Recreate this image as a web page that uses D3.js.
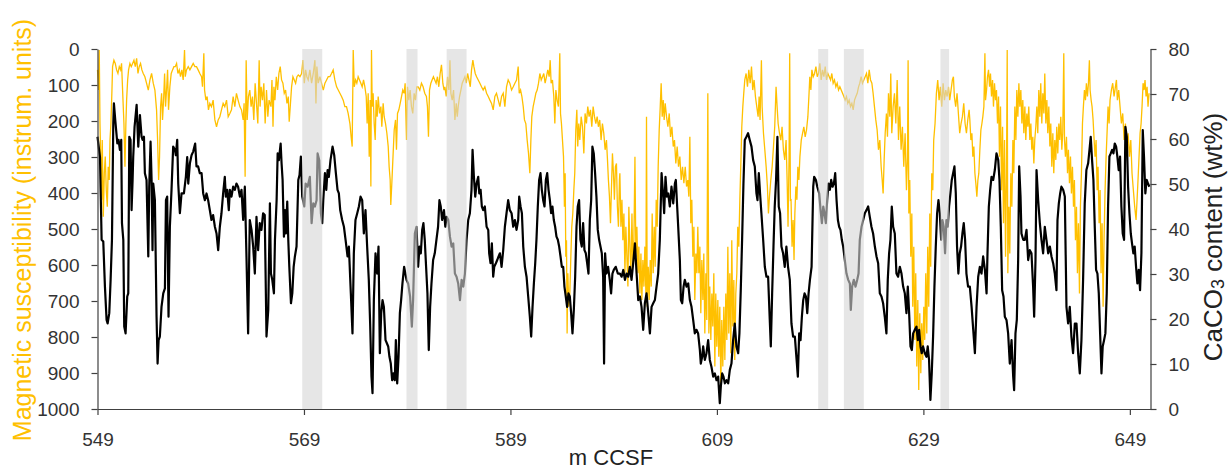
<!DOCTYPE html>
<meta charset="utf-8">
<script src="https://d3js.org/d3.v7.min.js"></script>
<style>
  body { margin: 0; background: #fff; }
  text { font-family: "Liberation Sans", Arial, sans-serif; }
</style>
<div id="chart"></div>
<script>

// depth axis ticks (m CCSF) and the two y axes
var depthTicks = [549, 569, 589, 609, 629, 649];
var msTicks = [0, 100, 200, 300, 400, 500, 600, 700, 800, 900, 1000];
var caTicks = [0, 10, 20, 30, 40, 50, 60, 70, 80];

// grey intervals [from, to] in m CCSF
var gaps = [[568.83, 570.77], [578.93, 580.0], [582.82, 584.75], [618.81, 619.78], [621.3, 623.23], [630.65, 631.49]];

// CaCO3 content (wt%) : [depth, value]
var caco3 = [
[549.0,60.5],[549.24,56],[549.4,37.6],[549.56,37.2],[549.72,27.2],[549.88,19.8],[549.98,19],[550.14,21.3],[550.27,28.7],[550.4,37.6],[550.53,63.5],[550.59,67.9],[550.72,64.2],[550.92,59],[551.04,59.8],[551.17,57.6],[551.3,59.8],[551.37,41.3],[551.5,37.6],[551.59,18.3],[551.72,16.8],[551.88,25],[551.98,25.7],[552.08,60.5],[552.2,59.8],[552.3,44.2],[552.4,50.9],[552.46,56],[552.59,62.7],[552.79,67.6],[552.95,58.3],[553.11,65.3],[553.27,60.5],[553.37,59.8],[553.5,60.5],[553.59,52.4],[553.75,50.9],[553.92,33.9],[554.01,49.4],[554.14,59.4],[554.24,50.9],[554.33,35.3],[554.4,50.1],[554.56,46.4],[554.66,30.1],[554.72,20.5],[554.82,10.1],[554.92,15.3],[555.04,16.1],[555.2,22.7],[555.37,25.7],[555.53,26.8],[555.63,46.4],[555.75,47.2],[555.88,20.5],[556.01,40.5],[556.17,48.7],[556.33,58.3],[556.5,57.6],[556.59,56.4],[556.72,59.8],[556.82,50.1],[556.98,43.5],[557.14,47.9],[557.37,47.9],[557.56,51.6],[557.69,56],[557.79,50.1],[557.95,54.6],[558.11,56.4],[558.27,57.2],[558.46,59],[558.59,53.9],[558.75,53.9],[558.91,52.4],[559.08,52.4],[559.24,47.9],[559.4,46.4],[559.56,47.9],[559.72,46.4],[559.88,44.2],[560.04,42],[560.2,43.1],[560.37,40.5],[560.53,39],[560.69,35.3],[560.85,40.5],[561.01,43.5],[561.17,47.9],[561.33,51.6],[561.43,47.2],[561.56,48.7],[561.72,44.2],[561.82,48.7],[561.98,47.2],[562.14,49.4],[562.3,48.7],[562.46,50.1],[562.62,49.4],[562.79,47.2],[562.95,48.7],[563.11,42],[563.27,49.4],[563.43,33.9],[563.59,16.8],[563.75,42],[563.92,39.8],[564.08,36.1],[564.24,30.1],[564.4,42.7],[564.56,35.3],[564.72,41.3],[564.88,39.8],[565.04,43.5],[565.2,43.1],[565.37,16.1],
[565.54,22.0],[565.7,45.7],[565.8,30.1],[565.93,28.7],[566.09,25.7],[566.19,37.6],[566.35,46.4],[566.45,56.8],[566.57,55.3],[566.74,59],[566.83,54.6],[566.93,50.9],[567.06,38.3],[567.16,44.2],[567.25,39],[567.38,46.1],[567.48,37.6],[567.58,31.6],[567.74,23.5],[567.87,25.7],[568.0,31.6],[568.12,33.9],[568.28,36.1],[568.45,50.9],[568.57,52],[568.7,56.1],[568.83,47.2],[569.03,45],[569.16,50.1],[569.35,49.4],[569.57,51.6],[569.74,41.3],[569.9,45.7],[570.06,45],[570.22,46.4],[570.32,56.8],[570.48,55.3],[570.64,43.5],[570.77,41.3],[570.87,46.4],[571.03,52.4],[571.16,48.7],[571.29,53.1],[571.41,51.6],[571.57,55.3],[571.77,58.3],[571.93,56.4],[572.09,52.4],[572.25,48.7],[572.38,47.9],[572.51,44.2],[572.7,42],[572.87,40.5],[573.03,37.6],[573.22,33.9],[573.35,36.1],[573.54,25.7],[573.7,16.8],[573.83,34.6],[573.99,42],[574.16,43.5],[574.32,45],[574.48,47.2],[574.64,46.4],[574.8,39],[574.96,44.2],[575.12,36.1],[575.28,28.7],[575.41,19],[575.54,7.2],[575.64,3.5],[575.77,24.2],[575.93,34.6],[576.09,30.1],[576.22,36.1],[576.35,12.4],[576.48,21.3],[576.61,24.2],[576.74,22.7],[576.9,15.3],[577.03,14.6],[577.16,13.9],[577.28,11.6],[577.41,10.1],[577.54,6.4],[577.67,7.9],[577.8,6.4],[577.9,15.3],[578.03,5.7],[578.16,11.6],[578.29,21.3],[578.41,24.2],[578.54,27.9],[578.7,31.6],[578.93,28.7],[579.09,27.9],[579.28,25],[579.45,18.3],[579.57,24.2],[579.74,39],[579.9,40.5],[580.06,31.6],[580.19,36.1],[580.32,34.6],[580.45,39.8],[580.57,41.3],[580.7,37.6],[580.83,31.6],[580.96,25.7],[581.09,13.1],[581.22,22.7],[581.35,27.9],[581.51,33.1],[581.67,34.6],[581.83,37.6],[581.99,40.5],[582.12,46.4],[582.25,45],[582.38,42],
[582.56,44.2],[582.69,40.5],[582.82,42.7],[582.98,42],[583.14,38.3],[583.3,36.1],[583.46,36.8],[583.62,30.1],[583.78,29.4],[583.94,27.9],[584.11,24.2],[584.27,28.7],[584.43,27.2],[584.59,30.1],[584.75,37.6],[584.91,42],[585.07,43.5],[585.23,48.7],[585.33,57.6],[585.46,51.6],[585.59,47.2],[585.72,50.1],[585.88,51.6],[585.98,47.9],[586.11,48.7],[586.23,45],[586.36,44.2],[586.52,45],[586.69,40.5],[586.85,39.8],[586.94,34.6],[587.07,32.4],[587.2,36.8],[587.33,29.4],[587.43,31.6],[587.59,32.4],[587.72,33.1],[587.85,33.9],[587.98,34.6],[588.14,31.6],[588.3,35.3],[588.46,40.5],[588.62,43.5],[588.78,46.4],[588.94,44.2],[589.11,43.5],[589.27,40.5],[589.43,42],[589.59,39.8],[589.75,42],[589.85,47.2],[589.98,45],[590.11,43.5],[590.24,36.1],[590.4,31.6],[590.56,29.4],[590.72,25],[590.88,20.5],[591.01,16.1],[591.14,22.7],[591.27,27.9],[591.4,32.4],[591.52,37.6],[591.65,45],[591.78,50.9],[591.91,52.4],[592.04,48.7],[592.17,46.4],[592.3,45],[592.43,50.9],[592.56,52.4],[592.69,48.7],[592.82,46.4],[592.94,43.5],[593.07,45],[593.2,42],[593.33,40.5],[593.46,38.3],[593.59,37.6],[593.72,36.1],[593.85,33.9],[593.98,31.6],[594.11,31.6],[594.23,27.2],[594.36,25],[594.49,22.7],[594.62,25.7],[594.75,25],[594.88,21.3],[595.01,16.8],[595.14,22],[595.27,29.4],[595.4,40.5],[595.52,45],[595.65,46.4],[595.78,37.6],[595.91,36.1],[596.04,41.3],[596.17,35.3],[596.3,34.6],[596.43,32.4],[596.56,30.1],[596.69,42],[596.82,46.4],[596.94,58.3],[597.07,56.8],[597.2,52.4],[597.33,47.2],[597.46,39.8],[597.59,37.6],[597.72,36.1],[597.85,34.6],[597.98,29.4],[598.07,10.1],[598.17,34.6],[598.3,30.1],[598.46,31.6],[598.62,28.7],[598.75,25.7],[598.88,30.1],[599.01,30.9],[599.2,31.6],[599.4,30.1],
[599.6,30.1],[599.77,29.4],[599.93,30.9],[600.09,28.7],[600.25,30.1],[600.41,29.4],[600.57,31.6],[600.73,28.7],[600.89,32.4],[601.06,36.8],[601.22,30.1],[601.38,24.2],[601.54,25],[601.7,22.7],[601.86,17.6],[602.02,23.5],[602.18,25.7],[602.35,21.3],[602.51,16.8],[602.67,22.7],[602.83,23.5],[602.99,24.2],[603.15,27.2],[603.31,30.1],[603.47,37.6],[603.64,52.4],[603.8,47.2],[603.89,43.5],[604.02,51.6],[604.15,47.2],[604.28,47.9],[604.44,45],[604.6,49.4],[604.77,45.7],[604.93,50.1],[605.02,50.9],[605.15,45],[605.25,40.5],[605.41,33.1],[605.51,24.2],[605.64,23.5],[605.77,27.2],[605.89,28.7],[606.06,27.2],[606.22,27.9],[606.38,24.2],[606.54,22.7],[606.7,19.8],[606.86,16.8],[607.02,17.6],[607.18,16.8],[607.35,13.1],[607.44,10.1],[607.57,11.6],[607.67,13.9],[607.83,10.9],[607.99,12.4],[608.15,15.3],[608.31,10.9],[608.47,9.4],[608.64,7.2],[608.8,7.9],[608.96,6.4],[609.12,7.2],[609.28,1.3],[609.38,5],[609.51,7.9],[609.64,7.2],[609.77,5.7],[609.93,6.4],[610.09,5.7],[610.25,8.7],[610.41,10.1],[610.57,15.3],[610.73,19],[610.89,13.9],[611.06,12.4],[611.18,16.8],[611.31,26.4],[611.44,37.6],[611.57,50.1],[611.7,59.8],[611.86,60.5],[612.02,61.3],[612.18,59.8],[612.35,58.3],[612.51,55.3],[612.67,53.9],[612.83,47.9],[612.93,46.4],[613.06,52.4],[613.18,47.9],[613.31,43.5],[613.48,37.6],[613.64,31.6],[613.8,29.4],[613.96,29.4],[614.12,19.8],[614.22,13.9],[614.35,25.7],[614.48,36.1],[614.6,45],[614.73,50.9],[614.86,60.5],[614.99,45],[615.12,43.5],[615.25,36.1],[615.41,34.6],[615.57,31.6],[615.73,36.1],[615.89,31.6],[616.06,28.7],[616.22,19],[616.38,16.1],
[616.55,16.1],[616.72,10.9],[616.84,7.2],[616.97,16.8],[617.1,15.3],[617.23,20.5],[617.36,24.2],[617.49,25.7],[617.62,25],[617.75,21.3],[617.88,25.7],[618.01,28.7],[618.17,31.6],[618.33,49.4],[618.42,51.6],[618.59,50.9],[618.72,49.4],[618.91,47.9],[619.04,44.2],[619.17,41.3],[619.3,45],[619.42,43.5],[619.55,41.3],[619.68,46.4],[619.81,50.1],[619.94,48.7],[620.07,50.9],[620.2,49.4],[620.33,50.1],[620.46,52.4],[620.59,46.4],[620.72,42],[620.84,40.5],[620.97,39.8],[621.1,37.6],[621.23,36.1],[621.39,33.1],[621.55,30.1],[621.72,28.7],[621.88,27.9],[621.97,22],[622.1,27.2],[622.26,28.7],[622.43,27.2],[622.59,28.7],[622.72,30.1],[622.84,37.6],[623.01,40.5],[623.17,42],[623.33,43.5],[623.49,44.2],[623.65,45],[623.81,42.7],[623.97,40.5],[624.13,39],[624.3,36.1],[624.46,33.9],[624.62,32.4],[624.78,25.7],[624.94,25],[625.1,23.5],[625.26,20.5],[625.42,16.8],[625.55,28.7],[625.68,34.6],[625.81,37.6],[625.94,45],[626.07,40.5],[626.23,39],[626.39,30.1],[626.55,29.4],[626.72,31.6],[626.88,30.1],[627.04,27.2],[627.2,25.7],[627.36,21.3],[627.49,27.2],[627.62,21.3],[627.75,13.9],[627.88,13.1],[628.01,16.8],[628.17,17.6],[628.33,18.3],[628.46,15.3],[628.59,17.6],[628.72,13.9],[628.84,12.4],[628.97,13.9],[629.14,12.4],[629.3,11.6],[629.42,13.9],[629.55,10.9],[629.68,2],[629.81,7.9],[629.94,16.1],[630.07,27.2],[630.2,36.1],[630.33,43.5],[630.46,46.4],[630.59,43.5],[630.72,37.6],[630.84,42],[630.97,40.5],[631.1,34.6],[631.23,42],[631.36,40.5],[631.49,45],[631.62,47.9],[631.75,50.9],[631.88,52.4],[632.01,53.9],[632.14,47.9],[632.26,36.1],[632.39,30.1],[632.52,34.6],[632.65,36.1],[632.78,39],[632.91,41.3],[633.04,37.6],[633.17,30.1],[633.33,27.2],
[633.5,27.2],[633.67,22.7],[633.83,17.6],[633.99,12.4],[634.15,22.7],[634.31,29.4],[634.47,31.6],[634.63,30.1],[634.79,33.9],[634.96,30.9],[635.12,25.7],[635.21,34.6],[635.34,45],[635.47,48.7],[635.6,51.6],[635.76,50.9],[635.92,53.1],[636.08,56.8],[636.25,55.3],[636.37,50.9],[636.5,40.5],[636.63,26.4],[636.76,25],[636.89,20.5],[637.05,19.8],[637.21,16.8],[637.37,10.1],[637.54,15.3],[637.7,7.2],[637.79,4.2],[637.92,16.8],[638.05,19.8],[638.18,33.1],[638.28,53.9],[638.41,47.2],[638.5,39],[638.67,37.6],[638.83,37.6],[638.99,39.8],[639.15,33.1],[639.31,35.3],[639.47,34.6],[639.63,27.2],[639.73,20.5],[639.86,33.1],[639.96,53.1],[640.12,46.4],[640.28,41.3],[640.44,37.6],[640.6,34.6],[640.76,40.5],[640.92,37.6],[641.09,34.6],[641.25,36.1],[641.41,33.9],[641.57,32.4],[641.73,30.1],[641.89,26.4],[641.99,42],[642.12,45.7],[642.25,47.9],[642.37,49.4],[642.54,48.7],[642.7,47.2],[642.86,22.7],[643.02,19],[643.18,22.7],[643.34,16.1],[643.5,12.4],[643.67,19],[643.83,19],[643.99,12.4],[644.15,7.9],[644.31,15.3],[644.47,28.7],[644.63,45.7],[644.79,53.1],[644.96,54.6],[645.12,58.3],[645.21,60.5],[645.34,55.3],[645.47,50.9],[645.6,40.5],[645.73,30.9],[645.86,30.1],[645.99,25.7],[646.12,16.8],[646.25,7.9],[646.37,13.9],[646.5,15.3],[646.63,16.8],[646.76,25.7],[646.89,45],[647.02,56.1],[647.15,56.8],[647.28,57.6],[647.41,56.8],[647.54,59],[647.67,58.3],[647.79,56.1],[647.92,53.1],[648.05,56.1],[648.18,45],[648.31,39],[648.44,37.6],[648.57,62.7],[648.7,60.5],[648.83,49.4],[648.96,43.5],[649.09,39],[649.21,36.8],[649.34,34.6],[649.47,36.1],[649.6,31.6],[649.73,27.9],[649.86,30.9],[649.99,26.4],[650.12,34.6],[650.25,62],[650.37,56.1],[650.5,47.9],[650.63,50.9],[650.76,50.1],[650.89,49.4]
];

// magnetic susceptibility (instrum. units) : [depth, value]
var magSus = [
[549.0,58],[549.11,114],[549.17,3],[549.24,207],[549.33,327],[549.4,419],[549.46,253],[549.56,466],[549.66,345],[549.75,299],[549.85,392],[549.95,438],[550.04,327],[550.14,364],[550.21,253],[550.3,207],[550.4,114],[550.46,49],[550.59,31],[550.72,40],[550.85,58],[550.98,68],[551.11,49],[551.24,58],[551.33,40],[551.43,114],[551.56,207],[551.66,327],[551.75,207],[551.82,142],[551.92,86],[552.01,58],[552.14,40],[552.27,49],[552.4,40],[552.53,31],[552.66,49],[552.79,26],[552.92,68],[553.04,49],[553.17,40],[553.3,58],[553.43,68],[553.59,77],[553.75,95],[553.92,114],[554.08,86],[554.24,68],[554.4,95],[554.56,114],[554.72,169],[554.82,253],[554.92,364],[555.01,299],[555.11,160],[555.21,123],[555.3,197],[555.4,142],[555.5,68],[555.59,160],[555.69,114],[555.79,58],[555.88,169],[556.01,105],[556.14,68],[556.27,58],[556.4,49],[556.53,49],[556.66,40],[556.79,68],[556.92,58],[557.04,77],[557.17,58],[557.3,86],[557.43,3],[557.5,77],[557.62,58],[557.79,49],[557.95,58],[558.11,49],[558.27,40],[558.43,49],[558.59,49],[558.75,58],[558.91,68],[559.08,77],[559.17,105],[559.3,12],[559.37,114],[559.5,142],[559.62,132],[559.75,169],[559.88,151],[560.04,160],[560.2,142],[560.37,197],[560.53,216],[560.69,197],[560.85,188],[561.01,169],[561.17,151],[561.33,160],[561.5,142],[561.66,188],[561.82,179],[561.98,169],[562.14,132],[562.3,160],[562.46,123],[562.62,142],[562.79,160],[562.95,169],[563.11,197],[563.2,151],[563.3,355],[563.4,31],[563.5,197],[563.62,132],[563.75,114],[563.88,160],[564.01,132],[564.14,197],[564.27,95],[564.4,151],[564.53,207],[564.66,31],[564.75,160],[564.85,105],[564.98,142],[565.11,95],[565.24,207],[565.37,114],[565.5,188],[565.62,142],
[565.8,160],[565.9,86],[566.0,216],[566.09,105],[566.19,142],[566.32,77],[566.45,114],[566.57,68],[566.7,49],[566.83,86],[566.96,95],[567.09,123],[567.22,114],[567.35,151],[567.48,132],[567.57,202],[567.67,160],[567.8,105],[567.93,77],[568.06,86],[568.19,95],[568.32,77],[568.45,72],[568.61,77],[568.77,68],[568.9,31],[569.03,95],[569.16,58],[569.28,77],[569.41,86],[569.57,58],[569.74,95],[569.9,68],[570.06,31],[570.16,151],[570.25,49],[570.38,95],[570.54,77],[570.7,95],[570.87,114],[571.03,95],[571.19,86],[571.35,77],[571.51,77],[571.67,68],[571.83,58],[571.99,86],[572.16,105],[572.32,114],[572.48,123],[572.64,132],[572.8,142],[572.96,160],[573.12,160],[573.28,179],[573.45,207],[573.57,244],[573.67,271],[573.77,3],[573.87,105],[574.0,86],[574.12,95],[574.25,77],[574.38,86],[574.51,95],[574.64,105],[574.77,86],[574.9,105],[575.03,132],[575.12,207],[575.22,123],[575.32,299],[575.41,142],[575.48,382],[575.54,3],[575.61,160],[575.7,123],[575.8,207],[575.9,253],[575.99,142],[576.09,188],[576.19,132],[576.32,179],[576.45,160],[576.54,216],[576.67,151],[576.77,188],[576.9,207],[577.03,234],[577.16,271],[577.25,327],[577.35,364],[577.41,433],[577.51,373],[577.61,308],[577.74,225],[577.87,197],[577.96,280],[578.06,179],[578.19,169],[578.32,151],[578.45,132],[578.57,114],[578.7,123],[578.8,95],[578.93,253],[579.03,105],[579.16,142],[579.28,114],[579.41,160],[579.54,179],[579.67,123],[579.8,142],[579.93,105],[580.06,105],[580.22,114],[580.38,95],[580.54,105],[580.7,123],[580.86,132],[580.96,160],[581.06,244],[581.16,114],[581.29,95],[581.41,86],[581.54,77],[581.67,86],[581.8,95],[581.93,77],[582.06,105],[582.19,68],[582.32,44],[582.45,95],[582.57,114],
[582.65,105],[582.78,132],[582.91,77],[583.04,114],[583.14,31],[583.23,123],[583.36,142],[583.49,114],[583.62,197],[583.75,151],[583.85,188],[583.94,160],[584.07,132],[584.2,114],[584.33,95],[584.46,86],[584.59,77],[584.72,95],[584.85,68],[584.98,86],[585.11,105],[585.23,58],[585.36,31],[585.46,49],[585.59,68],[585.72,77],[585.88,86],[586.04,95],[586.2,105],[586.36,114],[586.52,105],[586.69,123],[586.85,132],[587.01,142],[587.17,151],[587.33,169],[587.49,132],[587.65,123],[587.82,142],[587.98,160],[588.14,132],[588.3,123],[588.46,160],[588.62,105],[588.78,86],[588.94,95],[589.11,114],[589.27,105],[589.43,95],[589.59,86],[589.75,49],[589.85,123],[589.98,114],[590.11,132],[590.24,160],[590.36,197],[590.49,207],[590.62,253],[590.75,290],[590.88,345],[590.98,253],[591.07,188],[591.2,160],[591.33,142],[591.46,123],[591.59,114],[591.72,95],[591.85,68],[591.98,86],[592.11,77],[592.23,68],[592.36,95],[592.49,77],[592.62,58],[592.75,77],[592.85,31],[592.94,95],[593.07,86],[593.2,132],[593.3,207],[593.4,114],[593.52,142],[593.65,160],[593.72,86],[593.78,12],[593.85,179],[593.94,207],[594.04,253],[594.14,299],[594.23,438],[594.3,345],[594.36,577],[594.43,531],[594.49,790],[594.56,623],[594.65,716],[594.75,679],[594.85,577],[594.94,494],[595.04,457],[595.14,392],[595.23,345],[595.33,225],[595.43,169],[595.52,271],[595.62,207],[595.72,253],[595.85,188],[595.98,216],[596.11,290],[596.23,179],[596.36,207],[596.49,160],[596.62,188],[596.75,169],[596.88,216],[597.01,160],[597.14,188],[597.27,207],[597.4,188],[597.52,216],[597.65,197],[597.78,253],[597.91,207],[598.04,234],[598.17,280],[598.3,253],[598.4,308],[598.49,364],[598.59,410],[598.69,484],[598.78,392],[598.88,290],[598.98,345],[599.07,419],[599.17,327],[599.27,318],[599.36,438],[599.46,494],[599.56,364],
[599.6,345],[599.7,494],[599.8,419],[599.89,531],[599.99,457],[600.09,623],[600.18,494],[600.28,577],[600.38,660],[600.47,438],[600.57,549],[600.67,623],[600.77,457],[600.86,605],[600.96,531],[601.06,299],[601.15,577],[601.25,494],[601.35,623],[601.44,549],[601.54,679],[601.64,568],[601.73,697],[601.83,586],[601.93,660],[602.02,549],[602.12,679],[602.18,188],[602.25,716],[602.35,605],[602.44,697],[602.54,586],[602.64,660],[602.73,457],[602.83,623],[602.93,494],[603.02,605],[603.12,419],[603.22,494],[603.31,327],[603.41,225],[603.51,160],[603.6,95],[603.7,188],[603.8,142],[603.89,197],[603.99,151],[604.12,188],[604.25,216],[604.38,179],[604.51,244],[604.64,216],[604.77,271],[604.89,253],[605.02,318],[605.15,271],[605.28,327],[605.41,299],[605.54,364],[605.67,327],[605.8,373],[605.93,327],[606.06,382],[606.18,364],[606.28,410],[606.38,244],[606.47,484],[606.57,419],[606.67,577],[606.77,494],[606.86,697],[606.96,568],[607.06,623],[607.15,494],[607.25,623],[607.35,549],[607.44,734],[607.54,586],[607.64,697],[607.73,568],[607.83,790],[607.93,623],[608.02,753],[608.12,123],[608.22,790],[608.31,660],[608.41,808],[608.51,679],[608.6,771],[608.7,623],[608.8,882],[608.89,679],[608.99,827],[609.09,697],[609.18,855],[609.28,716],[609.38,938],[609.47,753],[609.57,882],[609.67,716],[609.77,864],[609.86,679],[609.96,808],[610.06,549],[610.15,790],[610.25,623],[610.35,845],[610.44,531],[610.54,771],[610.64,642],[610.73,864],[610.83,679],[610.93,623],[611.02,494],[611.12,549],[611.22,419],[611.31,327],[611.41,216],[611.51,160],[611.6,123],[611.7,86],[611.83,68],[611.96,105],[612.09,58],[612.22,95],[612.35,49],[612.47,114],[612.6,86],[612.73,132],[612.86,160],[612.99,188],[613.09,132],[613.18,197],[613.31,31],[613.38,160],[613.51,234],[613.64,280],[613.77,327],[613.89,382],[613.99,457],[614.09,410],[614.22,364],[614.35,327],[614.48,271],[614.6,216],[614.73,105],[614.83,160],[614.93,207],[615.06,234],[615.19,253],[615.31,216],[615.44,280],[615.57,308],[615.7,253],[615.8,364],[615.89,494],[615.99,299],[616.05,12],[616.12,420],[616.18,419],[616.28,549],[616.38,475],[616.47,586],
[616.55,457],[616.65,382],[616.75,419],[616.84,327],[616.94,364],[617.04,299],[617.17,253],[617.3,234],[617.42,216],[617.55,244],[617.68,225],[617.81,188],[617.91,132],[618.0,77],[618.1,114],[618.2,58],[618.33,77],[618.46,68],[618.59,49],[618.72,77],[618.84,68],[618.97,40],[619.1,86],[619.23,58],[619.36,77],[619.49,49],[619.62,86],[619.75,68],[619.88,77],[620.01,86],[620.13,68],[620.26,95],[620.39,86],[620.52,105],[620.65,95],[620.78,114],[620.91,105],[621.04,114],[621.17,123],[621.3,132],[621.42,142],[621.55,132],[621.68,151],[621.81,142],[621.94,160],[622.07,151],[622.2,169],[622.33,142],[622.46,132],[622.59,123],[622.72,105],[622.84,95],[622.97,77],[623.1,95],[623.23,86],[623.36,77],[623.49,68],[623.62,95],[623.75,58],[623.88,86],[624.01,95],[624.13,123],[624.26,160],[624.39,197],[624.52,225],[624.65,280],[624.78,253],[624.91,327],[625.01,364],[625.1,401],[625.2,308],[625.3,234],[625.42,179],[625.52,244],[625.62,123],[625.75,188],[625.84,68],[625.94,234],[626.07,160],[626.2,123],[626.33,207],[626.46,86],[626.59,253],[626.71,160],[626.84,280],[626.97,216],[627.1,327],[627.23,234],[627.36,392],[627.46,299],[627.52,31],[627.59,457],[627.68,364],[627.78,577],[627.88,457],[627.97,716],[628.07,549],[628.17,808],[628.26,623],[628.36,882],[628.46,697],[628.55,947],[628.65,734],[628.75,901],[628.84,762],[628.94,864],[629.04,716],[629.13,808],[629.23,623],[629.33,790],[629.42,549],[629.52,716],[629.62,457],[629.71,605],[629.81,345],[629.91,392],[630.0,253],[630.13,207],[630.26,123],[630.39,86],[630.52,142],[630.65,105],[630.78,160],[630.91,95],[631.04,142],[631.17,114],[631.3,132],[631.43,105],[631.55,142],[631.68,114],[631.81,86],[631.91,77],[632.0,132],[632.13,160],[632.26,123],[632.39,179],[632.52,234],[632.65,207],[632.78,188],[632.91,151],[633.04,207],[633.17,234],[633.3,197],[633.43,169],
[633.5,197],[633.6,253],[633.7,234],[633.79,299],[633.89,271],[633.99,345],[634.08,373],[634.18,410],[634.28,364],[634.37,345],[634.47,280],[634.57,225],[634.67,207],[634.76,188],[634.86,160],[634.96,12],[635.02,142],[635.12,114],[635.21,77],[635.31,58],[635.41,105],[635.5,68],[635.6,132],[635.7,86],[635.79,160],[635.89,95],[635.99,142],[636.08,114],[636.18,207],[636.28,132],[636.37,299],[636.47,160],[636.57,392],[636.67,216],[636.76,484],[636.86,253],[636.96,577],[637.05,345],[637.12,3],[637.18,623],[637.28,438],[637.37,568],[637.47,345],[637.57,438],[637.67,253],[637.76,345],[637.86,160],[637.96,253],[638.05,114],[638.15,188],[638.25,95],[638.34,160],[638.44,114],[638.54,207],[638.63,142],[638.73,234],[638.83,160],[638.92,253],[639.02,179],[639.12,216],[639.21,160],[639.31,253],[639.41,207],[639.5,280],[639.6,244],[639.7,318],[639.79,253],[639.89,216],[639.99,160],[640.08,234],[640.18,114],[640.28,188],[640.37,95],[640.47,207],[640.57,123],[640.67,179],[640.76,68],[640.86,207],[640.96,142],[641.05,234],[641.15,160],[641.25,271],[641.34,207],[641.44,327],[641.54,234],[641.63,345],[641.73,253],[641.83,308],[641.92,216],[642.02,290],[642.12,207],[642.21,253],[642.31,188],[642.41,280],[642.5,234],[642.6,12],[642.67,253],[642.76,299],[642.86,244],[642.96,345],[643.05,280],[643.15,373],[643.25,299],[643.34,401],[643.44,327],[643.54,438],[643.63,364],[643.73,531],[643.83,438],[643.92,623],[644.02,484],[644.12,679],[644.21,438],[644.31,345],[644.41,207],[644.5,160],[644.6,114],[644.7,142],[644.79,95],[644.89,132],[644.99,95],[645.08,31],[645.15,114],[645.25,142],[645.34,160],[645.44,197],[645.54,253],[645.63,299],[645.73,253],[645.83,392],[645.92,327],[646.02,484],[646.12,392],[646.21,623],[646.31,484],[646.41,716],[646.5,531],[646.6,392],[646.7,299],[646.79,234],[646.89,160],[646.99,207],[647.08,142],[647.21,114],[647.34,95],[647.47,132],[647.6,105],[647.7,86],[647.79,142],[647.92,114],[648.05,160],[648.18,207],[648.31,179],[648.44,253],[648.57,207],[648.7,271],[648.83,234],[648.96,299],[649.09,253],[649.21,345],[649.34,392],[649.47,438],[649.6,475],[649.7,419],[649.79,364],[649.89,299],[649.99,234],[650.09,207],[650.18,160],[650.28,95],[650.38,114],[650.47,86],[650.57,132],[650.67,105],[650.76,160],[650.86,123]
];

var width = 1229, height = 472;
var plot = {left: 97.5, right: 1150.5, top: 49, bottom: 409};

var svg = d3.select("#chart")
  .append("svg")
    .attr("width", width)
    .attr("height", height);

var x = d3.scaleLinear()
  .domain([549, 651])
  .range([plot.left, plot.right]);

var yMs = d3.scaleLinear()
  .domain([0, 1000])
  .range([plot.top, plot.bottom]);

var yCa = d3.scaleLinear()
  .domain([0, 80])
  .range([plot.bottom, plot.top]);

// susceptibility first, carbonate on top of it
svg.append("path")
  .datum(magSus)
  .attr("fill", "none")
  .attr("stroke", "#FFC000")
  .attr("stroke-width", 1.3)
  .attr("d", d3.line().x(function(d) { return x(d[0]); }).y(function(d) { return yMs(d[1]); }));

svg.append("path")
  .datum(caco3)
  .attr("fill", "none")
  .attr("stroke", "#000")
  .attr("stroke-width", 2.2)
  .attr("stroke-linejoin", "round")
  .attr("d", d3.line().x(function(d) { return x(d[0]); }).y(function(d) { return yCa(d[1]); }));

// translucent grey bands wash out whatever is underneath
svg.selectAll(".gap")
  .data(gaps)
  .enter()
  .append("rect")
    .attr("class", "gap")
    .attr("x", function(d) { return x(d[0]); })
    .attr("width", function(d) { return x(d[1]) - x(d[0]); })
    .attr("y", plot.top)
    .attr("height", plot.bottom - plot.top)
    .attr("fill", "#d5d5d5")
    .attr("fill-opacity", 0.6);

function styleAxis(g) {
  g.selectAll("path, line").attr("stroke", "#404040").attr("stroke-width", 1.2);
  g.selectAll("text").attr("fill", "#333").attr("font-size", 19);
}

svg.append("g")
  .attr("transform", "translate(" + plot.left + ",0)")
  .call(d3.axisLeft(yMs).tickValues(msTicks).tickFormat(d3.format("d")).tickSize(6).tickSizeOuter(0).tickPadding(12))
  .call(styleAxis);

svg.append("g")
  .attr("transform", "translate(" + plot.right + ",0)")
  .call(d3.axisRight(yCa).tickValues(caTicks).tickSize(6).tickSizeOuter(0).tickPadding(12))
  .call(styleAxis);

svg.append("g")
  .attr("transform", "translate(0," + plot.bottom + ")")
  .call(d3.axisBottom(x).tickValues(depthTicks).tickFormat(d3.format("d")).tickSize(6).tickSizeOuter(0).tickPadding(18))
  .call(styleAxis);

// axis titles
svg.append("text")
  .attr("transform", "translate(31,230) rotate(-90)")
  .attr("text-anchor", "middle")
  .attr("fill", "#FFC000")
  .attr("font-size", 25)
  .text("Magnetic susceptibility (instrum. units)");

var caTitle = svg.append("text")
  .attr("transform", "translate(1222,237) rotate(-90)")
  .attr("text-anchor", "middle")
  .attr("fill", "#222")
  .attr("font-size", 26);
caTitle.append("tspan").text("CaCO");
caTitle.append("tspan").attr("font-size", 18).attr("dy", 2).text("3");
caTitle.append("tspan").attr("dy", -2).text(" content (wt%)");

svg.append("text")
  .attr("x", 611)
  .attr("y", 465)
  .attr("text-anchor", "middle")
  .attr("fill", "#222")
  .attr("font-size", 22)
  .text("m CCSF");
</script>
